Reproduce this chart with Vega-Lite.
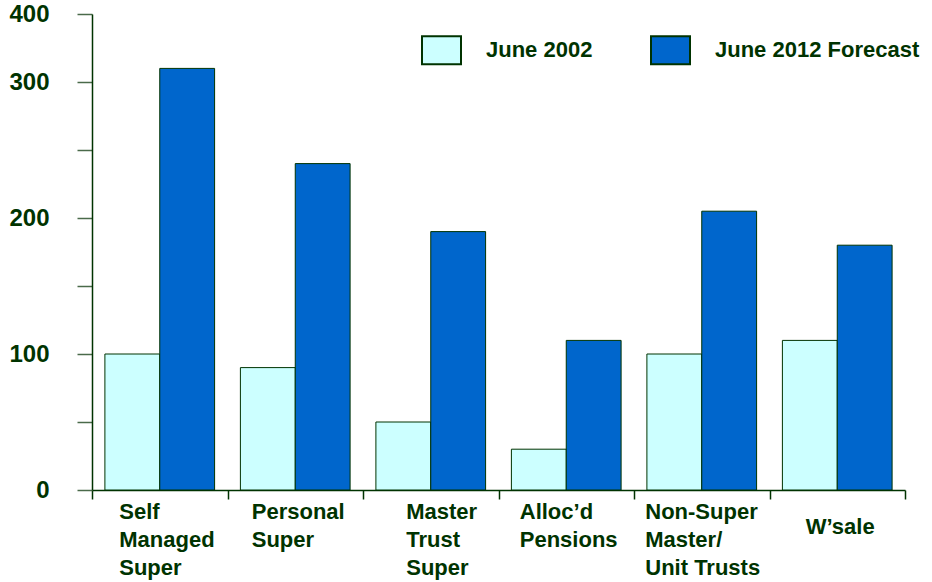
{
  "$schema": "https://vega.github.io/schema/vega-lite/v6.json",
  "width": 813,
  "height": 476,
  "autosize": {"type": "none"},
  "padding": {"left": 92, "top": 14, "right": 27, "bottom": 92},
  "background": "white",
  "config": {
    "view": {"stroke": null},
    "font": "Liberation Sans"
  },
  "data": {
    "values": [
      {"product": "Self Managed Super", "period": "June 2002", "assets": 100},
      {"product": "Self Managed Super", "period": "June 2012 Forecast", "assets": 310},
      {"product": "Personal Super", "period": "June 2002", "assets": 90},
      {"product": "Personal Super", "period": "June 2012 Forecast", "assets": 240},
      {"product": "Master Trust Super", "period": "June 2002", "assets": 50},
      {"product": "Master Trust Super", "period": "June 2012 Forecast", "assets": 190},
      {"product": "Alloc’d Pensions", "period": "June 2002", "assets": 30},
      {"product": "Alloc’d Pensions", "period": "June 2012 Forecast", "assets": 110},
      {"product": "Non-Super Master/ Unit Trusts", "period": "June 2002", "assets": 100},
      {"product": "Non-Super Master/ Unit Trusts", "period": "June 2012 Forecast", "assets": 205},
      {"product": "W’sale", "period": "June 2002", "assets": 110},
      {"product": "W’sale", "period": "June 2012 Forecast", "assets": 180}
    ]
  },
  "mark": {"type": "bar", "stroke": "#003300", "strokeWidth": 1},
  "encoding": {
    "x": {
      "field": "product",
      "type": "nominal",
      "sort": null,
      "title": null,
      "scale": {"paddingInner": 0, "paddingOuter": 0},
      "axis": {
        "domainColor": "#003300",
        "domainWidth": 1.5,
        "tickColor": "#003300",
        "tickWidth": 1.5,
        "tickSize": 9,
        "tickBand": "extent",
        "labelAngle": 0,
        "labelFont": "Liberation Sans",
        "labelFontSize": 22,
        "labelFontWeight": "bold",
        "labelColor": "#003300",
        "labelAlign": "left",
        "labelBaseline": "top",
        "labelLineHeight": 28,
        "labelLimit": 200,
        "labelPadding": {
          "condition": {"test": "datum.value === 'W’sale'", "value": 17},
          "value": 2
        },
        "labelOffset": {
          "condition": [
            {"test": "datum.value === 'Self Managed Super'", "value": -41},
            {"test": "datum.value === 'Personal Super'", "value": -44},
            {"test": "datum.value === 'Master Trust Super'", "value": -25},
            {"test": "datum.value === 'Alloc’d Pensions'", "value": -47},
            {"test": "datum.value === 'Non-Super Master/ Unit Trusts'", "value": -57}
          ],
          "value": -32
        },
        "labelExpr": "datum.value === 'Self Managed Super' ? ['Self', 'Managed', 'Super'] : datum.value === 'Personal Super' ? ['Personal', 'Super'] : datum.value === 'Master Trust Super' ? ['Master', 'Trust', 'Super'] : datum.value === 'Alloc’d Pensions' ? ['Alloc’d', 'Pensions'] : datum.value === 'Non-Super Master/ Unit Trusts' ? ['Non-Super', 'Master/', 'Unit Trusts'] : datum.label"
      }
    },
    "xOffset": {
      "field": "period",
      "type": "nominal",
      "scale": {"paddingOuter": 0.235, "paddingInner": 0}
    },
    "y": {
      "field": "assets",
      "type": "quantitative",
      "title": null,
      "scale": {"domain": [0, 350], "nice": false},
      "axis": {
        "values": [0, 50, 100, 150, 200, 250, 300, 350],
        "grid": false,
        "domainColor": "#003300",
        "domainWidth": 1.5,
        "tickColor": "#4a6a4a",
        "tickWidth": 1.5,
        "tickSize": 15,
        "labelPadding": 28,
        "labelFont": "Liberation Sans",
        "labelFontSize": 24,
        "labelFontWeight": "bold",
        "labelColor": "#003300",
        "labelExpr": "datum.value === 350 ? '400' : (datum.value % 100 === 0 ? datum.label : '')"
      }
    },
    "color": {
      "field": "period",
      "type": "nominal",
      "scale": {"domain": ["June 2002", "June 2012 Forecast"], "range": ["#ccffff", "#0066cc"]},
      "legend": {
        "title": null,
        "orient": "none",
        "direction": "horizontal",
        "legendX": 329,
        "legendY": 15.5,
        "symbolType": "M-1,-0.718H1V0.718H-1Z",
        "symbolSize": 1521,
        "symbolStrokeColor": "#003300",
        "symbolStrokeWidth": 2,
        "symbolOpacity": 1,
        "labelOffset": 24,
        "columnPadding": 54,
        "labelFont": "Liberation Sans",
        "labelFontSize": 22,
        "labelFontWeight": "bold",
        "labelColor": "#003300",
        "labelLimit": 300,
        "encode": {
          "symbols": {
            "update": {
              "fill": {"signal": "datum.value === 'June 2012 Forecast' ? '#3366ff' : '#ccffff'"},
              "stroke": {"value": "#003300"},
              "strokeWidth": {"value": 2}
            }
          }
        }
      }
    }
  }
}
